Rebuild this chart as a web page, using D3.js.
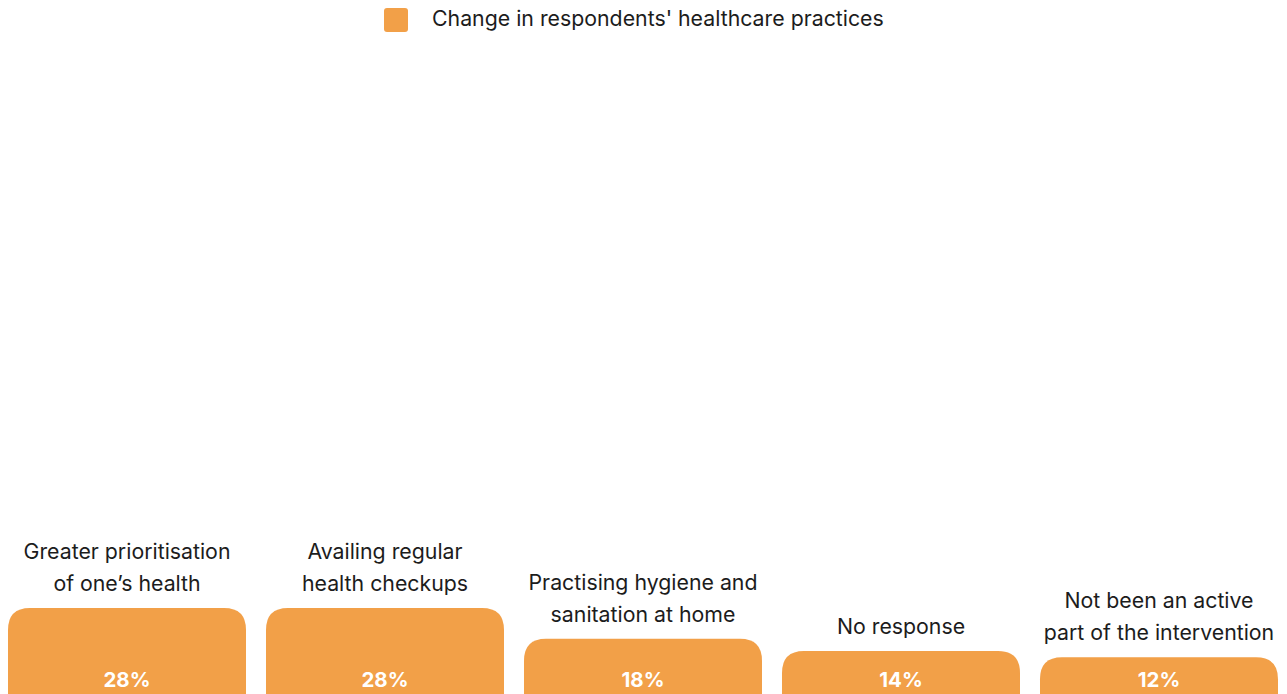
<!DOCTYPE html>
<html>
<head>
<meta charset="utf-8">
<script src="https://cdn.jsdelivr.net/npm/d3@7"></script>
<style>
  html, body { margin: 0; padding: 0; background: #ffffff; overflow: hidden; }
  svg { display: block; font-family: Inter, "Noto Sans", sans-serif; }
</style>
</head>
<body>
<svg id="chart" width="1287" height="694"></svg>
<script>
// Survey responses: change in respondents' healthcare practices
const categories = [
  ["Greater prioritisation", "of one\u2019s health"],
  ["Availing regular", "health checkups"],
  ["Practising hygiene and", "sanitation at home"],
  ["No response"],
  ["Not been an active", "part of the intervention"]
];
const values = [28, 28, 18, 14, 12];
const seriesName = "Change in respondents' healthcare practices";

const W = 1287, H = 694;
const barColor = "#F2A048";
const textColor = "#1c1c1c";
const yDomainMax = 187;
const fontSize = 21.3;

const svg = d3.select("#chart");

const keys = categories.map((c, i) => i);
const x = d3.scaleBand()
  .domain(keys)
  .range([-2, 1288])
  .paddingInner(0.0775)
  .paddingOuter(0.03875);

const y = d3.scaleLinear()
  .domain([0, yDomainMax])
  .range([H, 120]);

// bar with rounded top corners only
function topRoundedBar(x0, y0, w, h, r) {
  const rr = Math.min(r, h, w / 2);
  return `M${x0},${y0 + h}` +
    `V${y0 + rr}` +
    `Q${x0},${y0} ${x0 + rr},${y0}` +
    `H${x0 + w - rr}` +
    `Q${x0 + w},${y0} ${x0 + w},${y0 + rr}` +
    `V${y0 + h}Z`;
}

const g = svg.append("g");

const bars = g.selectAll("g.bar")
  .data(keys)
  .join("g")
  .attr("class", "bar");

bars.append("path")
  .attr("fill", barColor)
  .attr("d", i => topRoundedBar(x(i), y(values[i]), x.bandwidth(), y(0) - y(values[i]), 22));

// value labels inside the bars
bars.append("text")
  .attr("x", i => x(i) + x.bandwidth() / 2)
  .attr("y", y(0) - 7)
  .attr("text-anchor", "middle")
  .attr("fill", "#ffffff")
  .attr("font-weight", 700)
  .attr("font-size", 20.5)
  .text(i => values[i] + "%");

// category labels above the bars
bars.each(function (i) {
  const lines = categories[i];
  const t = d3.select(this).append("text")
    .attr("text-anchor", "middle")
    .attr("fill", textColor)
    .attr("font-size", fontSize);
  const lastBaseline = y(values[i]) - 17;
  lines.forEach((line, k) => {
    t.append("tspan")
      .attr("x", x(i) + x.bandwidth() / 2)
      .attr("y", lastBaseline - (lines.length - 1 - k) * 32)
      .text(line);
  });
});

// legend
const legend = svg.append("g");
legend.append("rect")
  .attr("x", 384).attr("y", 8)
  .attr("width", 24).attr("height", 24)
  .attr("rx", 3)
  .attr("fill", barColor);
legend.append("text")
  .attr("x", 432).attr("y", 25.5)
  .attr("fill", textColor)
  .attr("font-size", fontSize)
  .text(seriesName);
</script>
</body>
</html>
